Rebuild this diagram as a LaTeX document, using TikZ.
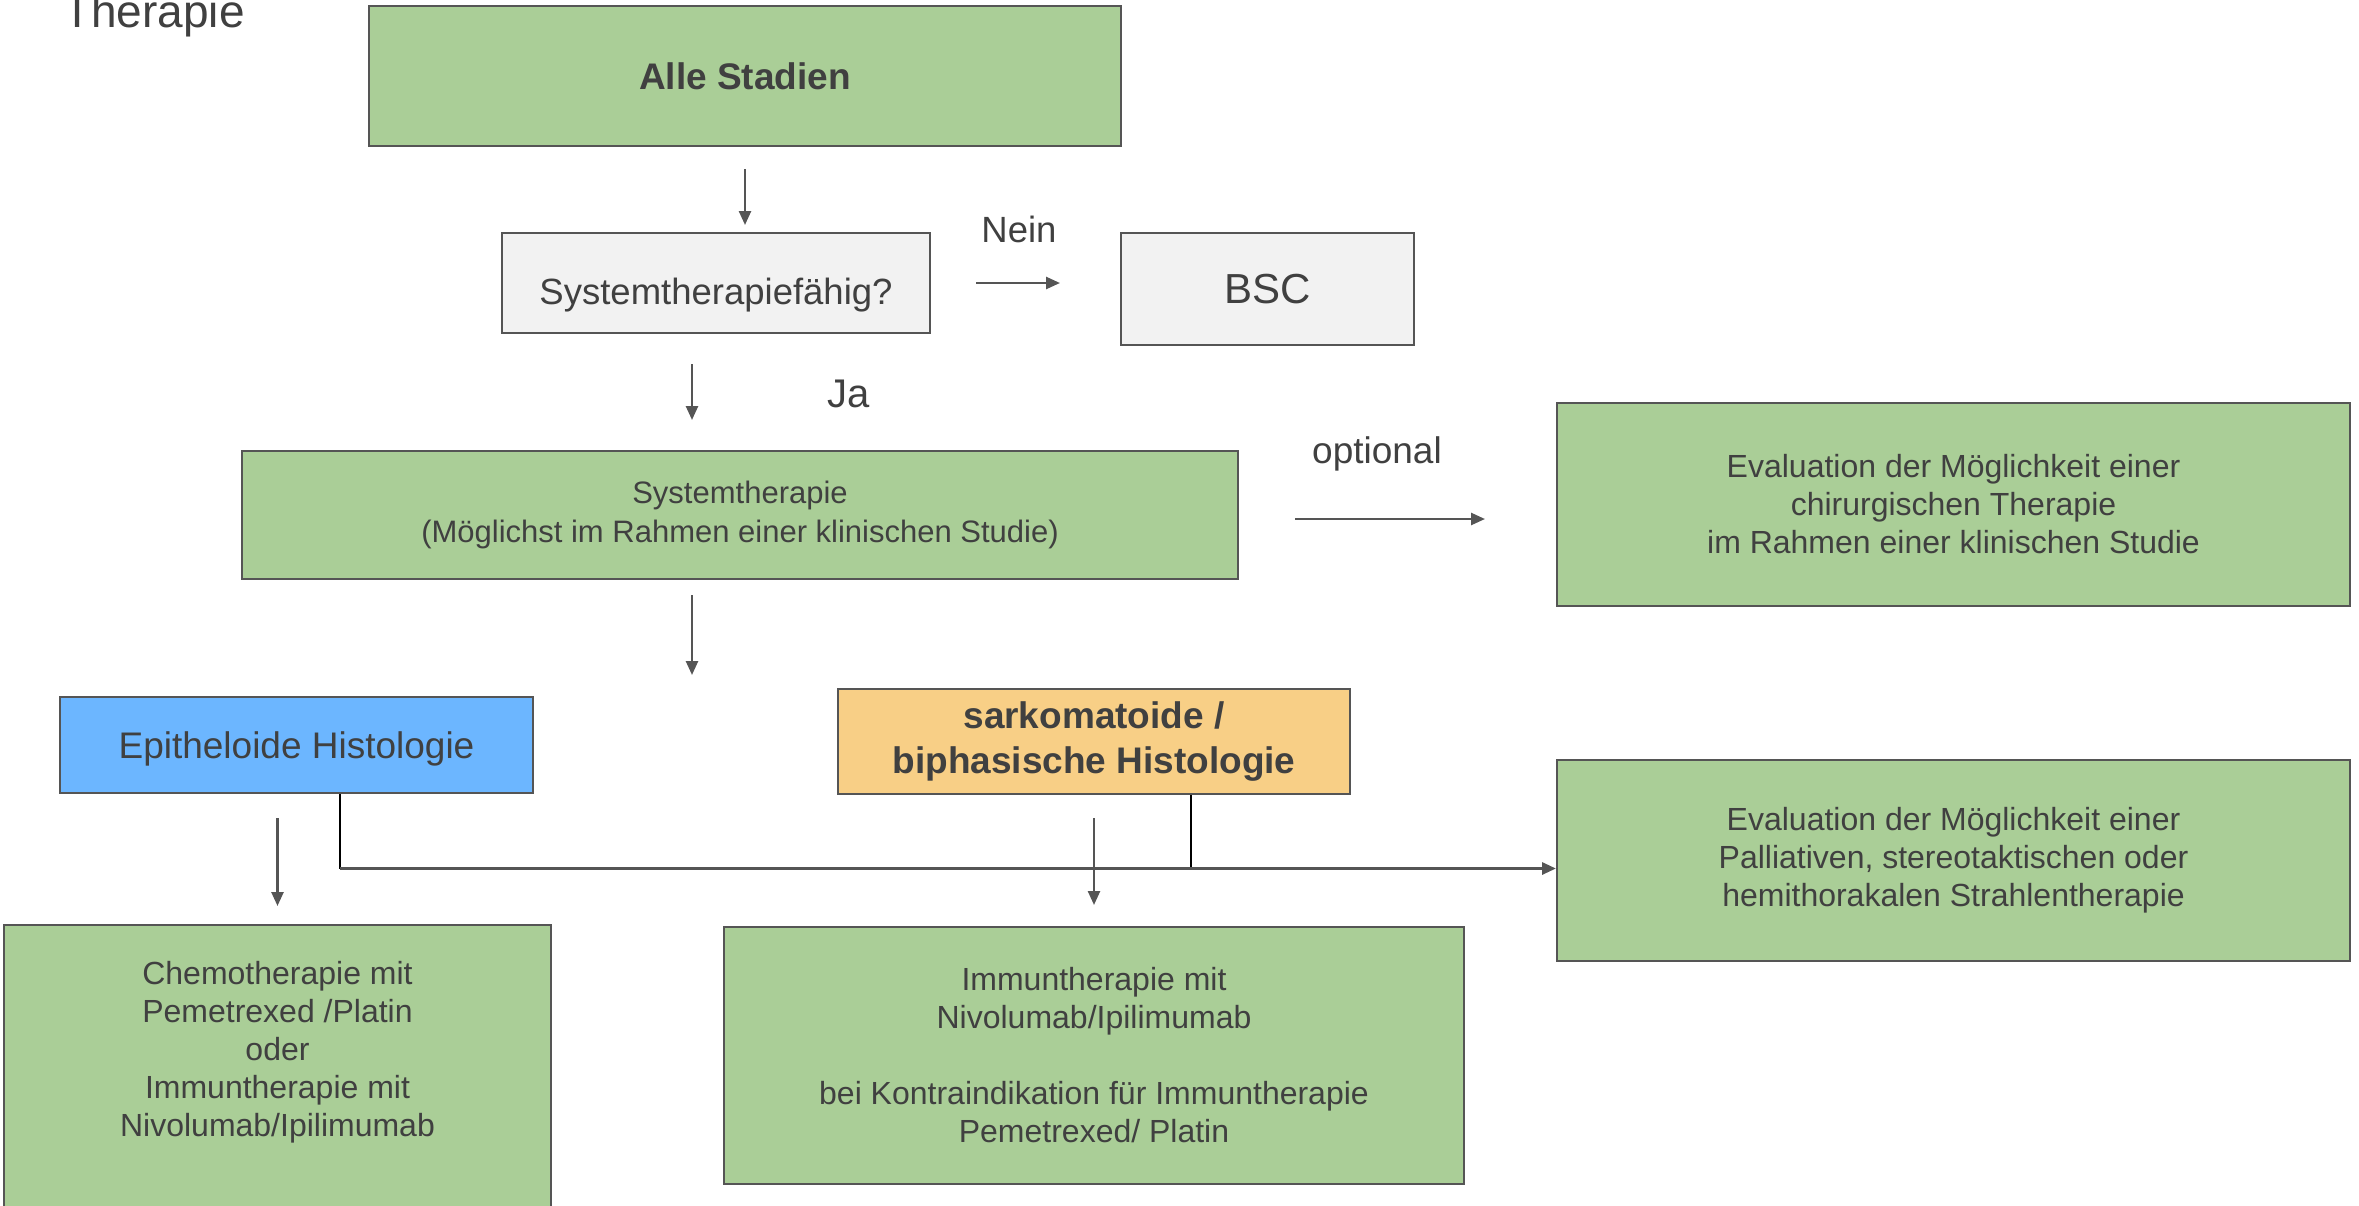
\documentclass[tikz,border=0pt]{standalone}
\usepackage{fontspec}
\setmainfont{Liberation Sans}
\usetikzlibrary{positioning,arrows.meta}
\definecolor{boxgreen}{RGB}{170,206,151}
\definecolor{epiblue}{RGB}{108,182,255}
\definecolor{sarkorange}{RGB}{248,207,134}
\definecolor{bscgray}{RGB}{242,242,242}
\definecolor{edgegray}{RGB}{85,85,85}
\definecolor{textgray}{RGB}{64,64,64}
\tikzset{
	box/.style={draw=edgegray, line width=2pt, text=textgray, align=center, inner sep=0pt},
	greenbox/.style={box, fill=boxgreen, font=\fontsize{32}{38}\selectfont},
	arr/.style={draw=edgegray, line width=2.5pt, -{Triangle[length=14pt,width=12pt]}},
	vline/.style={draw=black, line width=1.7pt},
	lbl/.style={text=textgray, inner sep=0pt}
}
\begin{document}
\begin{tikzpicture}[x=1pt, y=-1pt]
	\useasboundingbox (0,0) rectangle (2359,1205);
	\node[lbl, anchor=base west, font=\fontsize{46}{50}\selectfont] (title) at (63,27) {Therapie};
	\node[box, fill=boxgreen, minimum width=752pt, minimum height=140pt, font=\fontsize{37}{44}\selectfont\bfseries] (alle) at (745,76) {Alle Stadien};
	\node[box, fill=bscgray, minimum width=428pt, minimum height=100pt, text height=50pt, text depth=8pt, font=\fontsize{36.5}{44}\selectfont] (sysq) at (716,283) {Systemtherapiefähig?};
	\node[box, fill=bscgray, minimum width=293pt, minimum height=112pt, font=\fontsize{42}{48}\selectfont] (bsc) at (1267.5,289) {BSC};
	\node[greenbox, minimum width=996pt, minimum height=128pt, font=\fontsize{31}{39}\selectfont] (sys) at (740,515) {Systemtherapie\\(Möglichst im Rahmen einer klinischen Studie)};
	\node[greenbox, minimum width=793pt, minimum height=203pt] (chir) at (1953.5,504.5) {Evaluation der Möglichkeit einer\\chirurgischen Therapie\\im Rahmen einer klinischen Studie};
	\node[greenbox, minimum width=793pt, minimum height=201pt] (pall) [below of=chir, node distance=356pt] {Evaluation der Möglichkeit einer\\Palliativen, stereotaktischen oder\\hemithorakalen Strahlentherapie};
	\node[box, fill=epiblue, minimum width=473pt, minimum height=96pt, text height=35pt, text depth=8pt, font=\fontsize{37}{44}\selectfont] (epi) at (296.5,745) {Epitheloide Histologie};
	\node[box, fill=sarkorange, minimum width=512pt, minimum height=105pt, font=\fontsize{37}{44.6}\selectfont\bfseries] (sark) at (1094,741.5) {sarkomatoide /\\biphasische Histologie};
	\node[greenbox, minimum width=547pt, minimum height=320pt, anchor=north] (chemo) at (277.5,924) {Chemotherapie mit\\Pemetrexed /Platin\\oder\\Immuntherapie mit\\Nivolumab/Ipilimumab\\[35pt]\mbox{}};
	\node[greenbox, minimum width=740pt, minimum height=257pt] (immun) [below of=sark, node distance=314pt] {Immuntherapie mit\\Nivolumab/Ipilimumab\\[38pt]bei Kontraindikation für Immuntherapie\\Pemetrexed/ Platin};
	% labels on the arrows
	\node[lbl, anchor=base, font=\fontsize{36.5}{44}\selectfont] (nein) at (1019,242) {Nein};
	\node[lbl, anchor=base, font=\fontsize{40}{48}\selectfont] (ja) at (849,407) {Ja};
	\node[lbl, anchor=base, font=\fontsize{37}{44}\selectfont] (optional) at (1377,463) {optional};
	\coordinate (mid) at (692,0);
	\coordinate (opt) at (0,519);
	\coordinate (jl) at (340,868.5);
	\coordinate (jr) at (1191,868.5);
	\draw[arr, shorten <=22pt, shorten >=7pt] (alle.south) -- (alle.south |- sysq.north);
	\draw[arr, shorten <=45pt, shorten >=60pt] (sysq.east) -- (sysq.east -| bsc.west);
	\draw[arr, shorten <=30pt, shorten >=30pt] (sysq.south -| mid) -- (sys.north -| mid);
	\draw[arr, shorten <=56pt, shorten >=71pt] (sys.east |- opt) -- (chir.west |- opt);
	\draw[arr, shorten <=15pt, shorten >=21pt] (sys.south -| mid) -- (epi.north -| mid);
	\draw[arr, shorten <=24pt, shorten >=18pt] (epi.south -| chemo.north) -- (chemo.north);
	\draw[arr, shorten <=23pt, shorten >=21pt] (sark.south) -- (immun.north);
	\draw[vline] (epi.south -| jl) -- (jl);
	\draw[vline] (sark.south -| jr) -- (jr);
	\draw[arr, line width=3pt] (jl) -- (jl -| pall.west);
\end{tikzpicture}
\end{document}
